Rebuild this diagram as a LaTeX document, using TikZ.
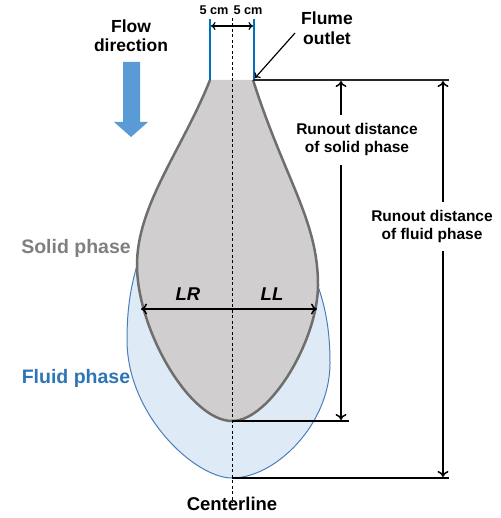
\documentclass[tikz,border=0pt]{standalone}
\usepackage{fontspec}
\setmainfont{Liberation Sans}
\usetikzlibrary{arrows.meta}
\definecolor{solidfill}{HTML}{D0CECE}
\definecolor{solidline}{HTML}{6E6E6E}
\definecolor{fluidfill}{HTML}{DEEBF7}
\definecolor{fluidline}{HTML}{4A7EBB}
\definecolor{flowblue}{HTML}{5B9BD5}
\definecolor{wallblue}{HTML}{0070C0}
\definecolor{solidtext}{HTML}{7F7F7F}
\definecolor{fluidtext}{HTML}{2E75B6}
\begin{document}
\begin{tikzpicture}[x=1pt,y=-1pt,
  lbl/.style={font=\bfseries\fontsize{#1}{#1}\selectfont, inner sep=0pt, anchor=base},
  ital/.style={font=\bfseries\itshape\fontsize{#1}{#1}\selectfont, inner sep=0pt, anchor=base},
  dimarrow/.style={line width=1.4pt, draw=black, -{To[length=6pt,width=11pt,line width=1.5pt]}},
  smallarrow/.style={line width=1.2pt, draw=black, -{To[length=4.5pt,width=8pt,line width=1.2pt]}},
  refline/.style={line width=1.5pt, draw=black!85}]
\useasboundingbox (0,0) rectangle (500,518);

% fluid phase
\path[fill=fluidfill, draw=fluidline, line width=1pt]
  (232,478) .. controls (195,478) and (127,415) .. (127,340)
  .. controls (127,300) and (133,275) .. (145,240)
  -- (300,250)
  .. controls (322,285) and (330,320) .. (330,363)
  .. controls (330,425) and (275,478) .. (232,478) -- cycle;

% solid phase
\fill[solidfill] (210,80) -- (253,80)
  .. controls (285,180) and (318,220) .. (318,285)
  .. controls (318,340) and (270,421) .. (232,421)
  .. controls (190,421) and (137,330) .. (137,265)
  .. controls (137,205) and (182,150) .. (210,80) -- cycle;
\draw[solidline, line width=2.5pt, line join=round] (253,80)
  .. controls (285,180) and (318,220) .. (318,285)
  .. controls (318,340) and (270,421) .. (232,421)
  .. controls (190,421) and (137,330) .. (137,265)
  .. controls (137,205) and (182,150) .. (210,80);

% flume walls
\coordinate (wlt) at (210,19);
\coordinate (wlb) at (210,80);
\coordinate (wrt) at (254,19);
\coordinate (wrb) at (254,80);
\draw[wallblue, line width=2.2pt] (wlt) -- (wlb);
\draw[wallblue, line width=2.2pt] (wrt) -- (wrb);

% centerline
\coordinate (ctop) at (232,18);
\coordinate (cbot) at (232,503);
\draw[black, line width=0.9pt, dash pattern=on 3pt off 2.5pt] (ctop) -- (cbot);

% 5 cm arrows
\coordinate (cm) at (232,26);
\coordinate (cml) at (211,26);
\coordinate (cmr) at (253,26);
\draw[smallarrow] (cm) -- (cml);
\draw[smallarrow] (cm) -- (cmr);
\node[lbl=12.7] (c1) at (214,15) {5 cm};
\node[lbl=12.7] (c2) at (248,15) {5 cm};

% flow direction arrow
\node[lbl=17.5] (f1) at (131,33) {Flow};
\node[lbl=17.5] (f2) at (131,52) {direction};
\fill[flowblue] (123,62) -- (140,62) -- (140,122) -- (148,122) -- (131,137) -- (114,122) -- (123,122) -- cycle;

% flume outlet
\node[lbl=17.5] (o1) at (327,25) {Flume};
\node[lbl=17.5] (o2) at (327,45) {outlet};
\coordinate (ofrom) at (295,33);
\coordinate (oto) at (255,78);
\draw[smallarrow] (ofrom) -- (oto);

% reference lines
\coordinate (topL) at (253,80);
\coordinate (topR) at (449,80);
\coordinate (solB) at (232,421);
\coordinate (solR) at (349,421);
\coordinate (fluB) at (232,478);
\coordinate (fluR) at (449,478);
\draw[refline] (topL) -- (topR);
\draw[refline, draw=black] (solB) -- (solR);
\draw[refline, draw=black] (fluB) -- (fluR);

% solid runout
\node[lbl=15.5] (s1) at (357,135) {Runout distance};
\node[lbl=15.5] (s2) at (357,153) {of solid phase};
\coordinate (sa1) at (341,115);
\coordinate (sa2) at (341,81);
\coordinate (sb1) at (341,165);
\coordinate (sb2) at (341,420);
\draw[dimarrow] (sa1) -- (sa2);
\draw[dimarrow] (sb1) -- (sb2);

% fluid runout
\node[lbl=15.5] (d1) at (432,222) {Runout distance};
\node[lbl=15.5] (d2) at (432,240) {of fluid phase};
\coordinate (da1) at (443,202);
\coordinate (da2) at (443,81);
\coordinate (db1) at (443,251);
\coordinate (db2) at (443,477);
\draw[dimarrow] (da1) -- (da2);
\draw[dimarrow] (db1) -- (db2);

% LR / LL
\coordinate (lc) at (232,309);
\coordinate (ll) at (141,309);
\coordinate (lr) at (317,309);
\draw[dimarrow] (lc) -- (ll);
\draw[dimarrow] (lc) -- (lr);
\node[ital=18.5] (LR) at (188,300) {LR};
\node[ital=18.5] (LL) at (272,300) {LL};

% phase labels
\node[lbl=19.5, text=solidtext] (sp) at (76,253) {Solid phase};
\node[lbl=19.5, text=fluidtext] (fp) at (76,383) {Fluid phase};
\node[lbl=18.5] (cl) at (232,510) {Centerline};
\end{tikzpicture}
\end{document}
